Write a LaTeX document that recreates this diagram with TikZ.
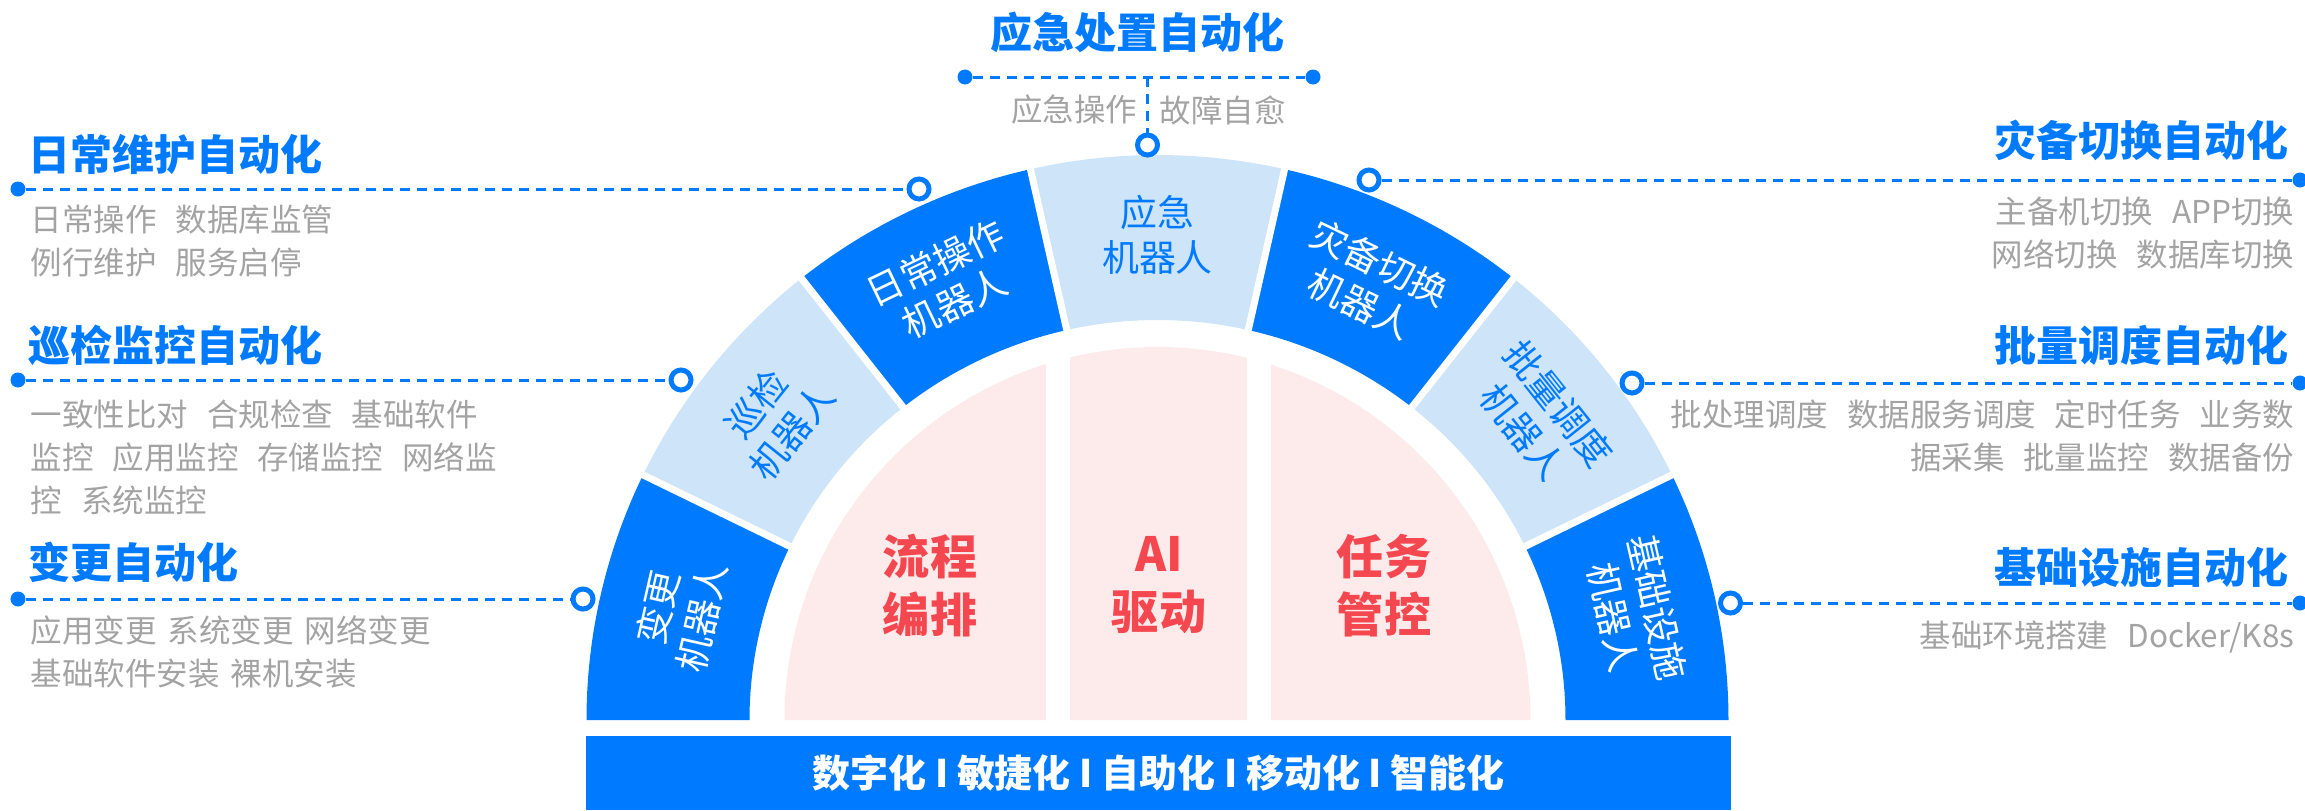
\documentclass[tikz,border=0pt]{standalone}
\usepackage{fontspec}
\setmainfont{Noto Sans CJK SC}
\definecolor{robotblue}{HTML}{007BFF}
\definecolor{robotlight}{HTML}{CDE4F9}
\definecolor{corepink}{HTML}{FDEBEB}
\definecolor{corered}{HTML}{F4474F}
\definecolor{notegray}{HTML}{A3A3A3}
\newcommand{\itemgap}{\hspace{0.6em}}
\newcommand{\smallgap}{\hspace{0.35em}}
\tikzset{
  leader/.style={draw=robotblue, line width=0.03cm, dash pattern=on 0.10cm off 0.07cm},
  enddot/.style={circle, fill=robotblue, inner sep=0pt, minimum size=0.15cm},
  ringdot/.style={circle, draw=robotblue, fill=white, line width=0.05cm, inner sep=0pt, minimum size=0.20cm},
  headline/.style={text=robotblue, inner sep=0pt, font=\bfseries\fontsize{11.95pt}{14pt}\selectfont},
  notes/.style={text=notegray, inner sep=0pt, font=\fontsize{8.96pt}{12.23pt}\selectfont},
  segdark/.style={fill=robotblue},
  seglight/.style={fill=robotlight},
  labeldark/.style={text=white, align=center, inner sep=0pt, font=\fontsize{10.5pt}{12.8pt}\selectfont},
  labellight/.style={labeldark, text=robotblue},
  coretext/.style={text=corered, align=center, inner sep=0pt, font=\bfseries\fontsize{13.4pt}{16.5pt}\selectfont},
  basebar/.style={fill=robotblue, text=white, minimum width=11.45cm, minimum height=0.74cm, inner sep=0pt, font=\bfseries\fontsize{10.8pt}{13pt}\selectfont}
}

\begin{document}
\begin{tikzpicture}
\useasboundingbox (0,0) rectangle (23.05,8.10);

% half ring of robots
\begin{scope}[shift={(11.575,0.90)}]
  \fill[corepink] (3.73,0) arc[start angle=0, end angle=180, radius=3.73] -- cycle;
  \foreach \i/\kind/\robot in {0/dark/基础设施, 1/light/批量调度, 2/dark/灾备切换, 3/light/应急, 4/dark/日常操作, 5/light/巡检, 6/dark/变更}{
    \pgfmathsetmacro\a{\i*180/7}
    \pgfmathsetmacro\b{(\i+1)*180/7}
    \pgfmathsetmacro\m{(\i+0.5)*180/7}
    \fill[seg\kind] (\a:5.71cm and 5.65cm) arc[start angle=\a, end angle=\b, x radius=5.71, y radius=5.65]
      -- (\b:4.08cm and 4.00cm) arc[start angle=\b, end angle=\a, x radius=4.08, y radius=4.00] -- cycle;
    \node[label\kind, rotate=\m-90] (robot\i) at (\m:4.90cm and 4.85cm) {\robot\\机器人};
  }
  \foreach \k in {1,...,6}
    \draw[white, line width=0.07cm] (\k*180/7:3.95cm and 3.87cm) -- (\k*180/7:5.85cm and 5.79cm);
\end{scope}
\fill[white] (10.455,0.85) rectangle (10.695,4.70);
\fill[white] (12.465,0.85) rectangle (12.705,4.70);

\node[coretext] (flow) at (9.30,2.245) {流程\\编排};
\node[coretext] (drive) at (11.59,2.245) {AI\\驱动};
\node[coretext] (task) at (13.84,2.245) {任务\\管控};

\node[basebar] (bar) at (11.585,0.37) {数字化 I 敏捷化 I 自助化 I 移动化 I 智能化};

% left side
\node[headline, anchor=west] (dailyT) at (0.28,6.56) {日常维护自动化};
\node[enddot] (dailyL) at (0.18,6.21) {};
\node[ringdot] (dailyR) at (9.19,6.21) {};
\node[notes, anchor=west, align=left] (dailyN) at (0.30,5.685) {日常操作\itemgap 数据库监管\\例行维护\itemgap 服务启停};
\draw[leader] (dailyL) -- (dailyR);

\node[headline, anchor=west] (patrolT) at (0.28,4.65) {巡检监控自动化};
\node[enddot] (patrolL) at (0.18,4.30) {};
\node[ringdot] (patrolR) at (6.81,4.30) {};
\node[notes, anchor=west, align=left] (patrolN) at (0.30,3.525) {一致性比对\itemgap 合规检查\itemgap 基础软件\\监控\itemgap 应用监控\itemgap 存储监控\itemgap 网络监\\控\itemgap 系统监控};
\draw[leader] (patrolL) -- (patrolR);

\node[headline, anchor=west] (changeT) at (0.28,2.48) {变更自动化};
\node[enddot] (changeL) at (0.18,2.11) {};
\node[ringdot] (changeR) at (5.83,2.11) {};
\node[notes, anchor=west, align=left] (changeN) at (0.30,1.585) {应用变更\smallgap 系统变更\smallgap 网络变更\\基础软件安装\smallgap 裸机安装};
\draw[leader] (changeL) -- (changeR);

% top
\node[headline] (emergT) at (11.375,7.78) {应急处置自动化};
\node[enddot] (emergL) at (9.65,7.33) {};
\node[enddot] (emergE) at (13.13,7.33) {};
\coordinate (emergJ) at (11.475,7.33);
\node[ringdot] (emergR) at (11.475,6.65) {};
\node[notes, anchor=east] (emergN1) at (11.38,7.00) {应急操作};
\node[notes, anchor=west] (emergN2) at (11.59,7.00) {故障自愈};
\draw[leader] (emergL) -- (emergE);
\draw[leader] (emergJ) -- (emergR);

% right side
\node[headline, anchor=east] (backupT) at (22.89,6.70) {灾备切换自动化};
\node[ringdot] (backupR) at (13.69,6.30) {};
\node[enddot] (backupE) at (23.00,6.30) {};
\node[notes, anchor=east, align=right] (backupN) at (22.95,5.765) {主备机切换\itemgap APP切换\\网络切换\itemgap 数据库切换};
\draw[leader] (backupR) -- (backupE);

\node[headline, anchor=east] (batchT) at (22.89,4.65) {批量调度自动化};
\node[ringdot] (batchR) at (16.32,4.27) {};
\node[enddot] (batchE) at (23.00,4.27) {};
\node[notes, anchor=east, align=right] (batchN) at (22.95,3.74) {批处理调度\itemgap 数据服务调度\itemgap 定时任务\itemgap 业务数\\据采集\itemgap 批量监控\itemgap 数据备份};
\draw[leader] (batchR) -- (batchE);

\node[headline, anchor=east] (infraT) at (22.89,2.43) {基础设施自动化};
\node[ringdot] (infraR) at (17.305,2.07) {};
\node[enddot] (infraE) at (23.00,2.07) {};
\node[notes, anchor=east] (infraN) at (22.95,1.73) {基础环境搭建\itemgap Docker/K8s};
\draw[leader] (infraR) -- (infraE);
\end{tikzpicture}
\end{document}
